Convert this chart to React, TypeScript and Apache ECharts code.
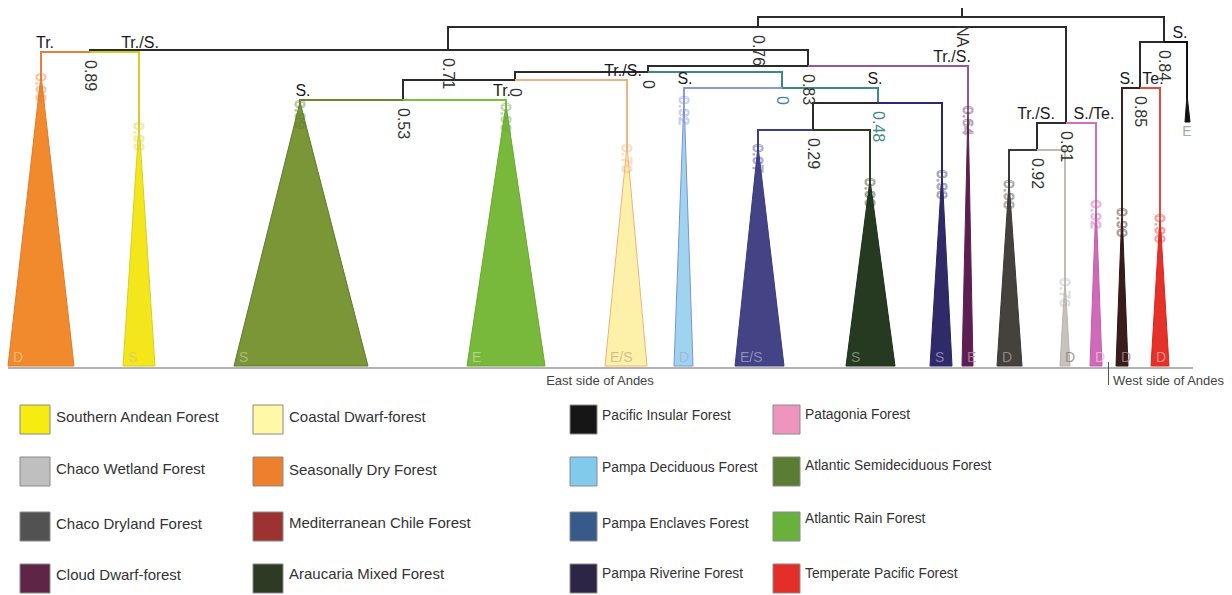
import React, { useEffect, useRef } from "react";
import * as echarts from "echarts";

// ---------- Legend (forest types, column-major order) ----------
const forestNames = [
  "Southern Andean Forest", "Chaco Wetland Forest", "Chaco Dryland Forest", "Cloud Dwarf-forest",
  "Coastal Dwarf-forest", "Seasonally Dry Forest", "Mediterranean Chile Forest", "Araucaria Mixed Forest",
  "Pacific Insular Forest", "Pampa Deciduous Forest", "Pampa Enclaves Forest", "Pampa Riverine Forest",
  "Patagonia Forest", "Atlantic Semideciduous Forest", "Atlantic Rain Forest", "Temperate Pacific Forest",
];
const forestColors = [
  "#f7ec12", "#bfbfbf", "#525252", "#5f2546",
  "#fff8a6", "#ee7f2d", "#9c3232", "#2e3a24",
  "#161616", "#82caeb", "#375a8a", "#2d2545",
  "#ef95bd", "#5b7d33", "#68b23b", "#e42f28",
];

// ---------- Tree: leaves (clades) ----------
const leafForest = [
  "Seasonally Dry Forest", "Southern Andean Forest", "Atlantic Semideciduous Forest", "Atlantic Rain Forest",
  "Coastal Dwarf-forest", "Pampa Deciduous Forest", "Pampa Enclaves Forest", "Araucaria Mixed Forest",
  "Pampa Riverine Forest", "Cloud Dwarf-forest", "Chaco Dryland Forest", "Chaco Wetland Forest",
  "Patagonia Forest", "Mediterranean Chile Forest", "Temperate Pacific Forest", "Pacific Insular Forest",
];
const leafX = [41, 139, 300, 506, 627, 684, 758, 870, 942, 968, 1009, 1065, 1096, 1122, 1160, 1187];
const leafApexY = [75, 124, 102, 105, 146, 98, 146, 180, 172, 108, 182, 280, 202, 210, 216, 95];
const leafBaseY = [366, 366, 366, 366, 366, 366, 366, 366, 366, 366, 366, 366, 366, 366, 366, 122];
const leafBaseLeft = [8, 123, 234, 467, 605, 674, 735, 846, 930, 962, 997, 1060, 1090, 1116, 1151, 1185];
const leafBaseRight = [74, 155, 368, 545, 647, 693, 784, 895, 952, 973, 1022, 1070, 1102, 1128, 1169, 1190];
const leafParent = ["E", "E", "I", "I", "H", "J", "L", "L", "K", "F", "M", "M", "D", "N", "N", "B"];
const leafTip = ["D", "S", "S", "E", "E/S", "D", "E/S", "S", "S", "E", "D", "D", "D", "D", "D", "E"];
const leafState = ["Tr.", "Tr./S.", "S.", "Tr.", "Tr./S.", "S.", "", "", "", "Tr./S.", "", "", "S./Te.", "S.", "Te.", "S."];
const leafSupport = ["0.99", "0.99", "0.99", "0.99", "0.70", "0.92", "0.97", "0.99", "0.98", "0.64", "0.98", "0.76", "0.92", "0.90", "0.98", ""];

// ---------- Tree: internal nodes ----------
const nodeIds = ["root", "A", "B", "C", "D", "E", "F", "G", "H", "I", "J", "K", "L", "M", "N"];
const nodeX = [962, 758, 1164, 448, 1066, 90, 808, 648, 515, 403, 782, 878, 813, 1037, 1140];
const nodeY = [17, 27, 42, 50, 123, 52, 66, 72, 80, 100, 88, 103, 130, 150, 88];
const nodeParent = ["", "root", "root", "A", "A", "C", "C", "F", "G", "H", "G", "J", "K", "D", "B"];
const nodeSupport = ["NA", "0.76", "0.84", "0.71", "0.81", "0.89", "0.83", "0", "0", "0.53", "0", "0.48", "0.29", "0.92", "0.85"];
const nodeState = ["", "", "", "", "", "", "", "", "", "", "", "S.", "", "Tr./S.", ""];

// ---------- Styles (kept apart from data) ----------
const FONT = "'Liberation Sans', Arial, sans-serif";
const leafFill = ["#f08a2c", "#f3e61a", "#7a9636", "#78b83a", "#fdf0a8", "#9fd4ef", "#434385", "#263a22",
  "#302a68", "#5d1f52", "#45423e", "#c8c2bc", "#d06ab8", "#3a1c1a", "#e6302a", "#111111"];
const leafStroke = ["#e27a2e", "#d6cf2a", "#5f7a2e", "#6aa832", "#f0b27a", "#7f90d8", "#3a3a80", "#1e2e1a",
  "#2a2560", "#5d1f52", "#3a3835", "#b8b2ac", "#c45aad", "#2e1614", "#d8281f", "#111111"];
const leafBranch = ["#e97c3e", "#d4cc2c", "#6b8a30", "#7cc040", "#f0b482", "#8a98dc", "#3c3c90", "#2a3a22",
  "#2c2870", "#93579a", "#3a3a3a", "#c0bab4", "#d070c0", "#3a2020", "#e84a3a", "#111111"];
const leafTipColor = ["#f6c08a", "#d8cf6a", "#b5c48a", "#b8dc98", "#c9b58a", "#a7b0d8", "#9a9acb", "#8a9a80",
  "#9a94c0", "#b08aa8", "#9a9894", "#8a8480", "#f0b8e0", "#a08080", "#f4a0a0", "#aaaaaa"];
const nodeBranch = ["#2b2b2b", "#2b2b2b", "#2b2b2b", "#2b2b2b", "#2b2b2b", "#2b2b2b", "#2b2b2b", "#2b2b2b",
  "#2b2b2b", "#2b2b2b", "#3b8b82", "#3b8b82", "#2b2b2b", "#2b2b2b", "#2b2b2b"];
const nodeSupportColor = ["#333", "#333", "#333", "#333", "#333", "#333", "#333", "#333", "#333", "#333",
  "#3b8b82", "#3b8b82", "#333", "#333", "#333"];
const leafStateNudge = [4, 1, 3, -4, -4, 1, 0, 0, 0, -16, 0, 0, -2, 5, -7, -7];
const nodeStateNudge = [0, 0, 0, 0, 0, 0, 0, 0, 0, 0, 0, -3, 0, -1, 0];
const ROOT_STEM_TOP = 8;

function nodeIndex(id: string) {
  return nodeIds.indexOf(id);
}

type Edge = { pts: number[][]; color: string };
function buildEdges(): Edge[] {
  const edges: Edge[] = [];
  edges.push({ pts: [[nodeX[0], ROOT_STEM_TOP], [nodeX[0], nodeY[0]]], color: nodeBranch[0] });
  nodeIds.forEach((id, i) => {
    if (!nodeParent[i]) return;
    const p = nodeIndex(nodeParent[i]);
    edges.push({
      pts: [[nodeX[p], nodeY[p]], [nodeX[i], nodeY[p]], [nodeX[i], nodeY[i]]],
      color: nodeBranch[i],
    });
  });
  leafX.forEach((x, i) => {
    const p = nodeIndex(leafParent[i]);
    edges.push({
      pts: [[nodeX[p], nodeY[p]], [x, nodeY[p]], [x, leafApexY[i] + 4]],
      color: leafBranch[i],
    });
  });
  return edges;
}

type Lbl = { x: number; y: number; text: string; kind: string; color: string; dx: number };
function buildLabels(): Lbl[] {
  const out: Lbl[] = [];
  nodeIds.forEach((id, i) => {
    out.push({ x: nodeX[i], y: nodeY[i], text: nodeSupport[i], kind: "support", color: nodeSupportColor[i], dx: 0 });
    if (nodeState[i]) {
      const p = nodeIndex(nodeParent[i]);
      out.push({ x: nodeX[i], y: nodeY[p], text: nodeState[i], kind: "state", color: "#1a1a1a", dx: nodeStateNudge[i] });
    }
  });
  leafX.forEach((x, i) => {
    const p = nodeIndex(leafParent[i]);
    if (leafState[i]) out.push({ x, y: nodeY[p], text: leafState[i], kind: "state", color: "#1a1a1a", dx: leafStateNudge[i] });
    if (leafSupport[i]) out.push({ x, y: leafApexY[i], text: leafSupport[i], kind: "faint", color: leafStroke[i], dx: 0 });
    if (leafBaseY[i] > 300) {
      out.push({ x: leafBaseLeft[i], y: leafBaseY[i], text: leafTip[i], kind: "tip", color: leafTipColor[i], dx: 0 });
    } else {
      out.push({ x, y: leafBaseY[i], text: leafTip[i], kind: "tipBelow", color: leafTipColor[i], dx: 0 });
    }
  });
  return out;
}

export default function App() {
  const ref = useRef<HTMLDivElement>(null);
  useEffect(() => {
    if (!ref.current) return;
    const chart = echarts.init(ref.current, null, { renderer: "svg" });
    const edges = buildEdges();
    const labels = buildLabels();

    const legendCols = [20, 253, 570, 773];
    const legendTextX = [56, 289, 602, 805];
    const legendFont = [15, 15, 13.8, 13.8];
    const legendRows = [405, 457, 512, 564];
    const legendTextDy = [[11, 11, 11, 10], [11, 12, 10, 9], [10, 10, 11, 9], [9, 8, 6, 9]];
    const legendGraphics: any[] = [];
    forestNames.forEach((name, k) => {
      const c = Math.floor(k / 4);
      const r = k % 4;
      legendGraphics.push({
        type: "rect",
        shape: { x: legendCols[c], y: legendRows[r], width: c >= 2 ? 27 : 30, height: 29 },
        style: { fill: forestColors[k], stroke: "#8a8a8a", lineWidth: 1 },
      });
      legendGraphics.push({
        type: "text",
        x: legendTextX[c],
        y: legendRows[r] + legendTextDy[c][r],
        style: { text: name, fill: "#333", font: `${legendFont[c]}px ${FONT}`, verticalAlign: "middle", align: "left" },
      });
    });

    const option: any = {
      animation: false,
      backgroundColor: "#ffffff",
      grid: { left: 0, right: 0, top: 0, bottom: 0 },
      xAxis: { type: "value", min: 0, max: 1232, show: false },
      yAxis: { type: "value", min: 0, max: 595, inverse: true, show: false },
      series: [
        {
          type: "custom",
          name: "clades",
          clip: false,
          data: leafX.map((x, i) => [x, leafApexY[i]]),
          renderItem: (params: any, api: any) => {
            const i = params.dataIndex;
            const a = api.coord([leafX[i], leafApexY[i]]);
            const l = api.coord([leafBaseLeft[i], leafBaseY[i]]);
            const r = api.coord([leafBaseRight[i], leafBaseY[i]]);
            return {
              type: "polygon",
              shape: { points: [a, r, l] },
              style: { fill: leafFill[i], stroke: leafStroke[i], lineWidth: 1 },
            };
          },
          z: 1,
        },
        {
          type: "custom",
          name: "branches",
          clip: false,
          data: edges.map((e) => e.pts[e.pts.length - 1]),
          renderItem: (params: any, api: any) => {
            const e = edges[params.dataIndex];
            return {
              type: "polyline",
              shape: { points: e.pts.map((p) => api.coord(p)) },
              style: { stroke: e.color, lineWidth: 2, fill: null, lineJoin: "miter" },
            };
          },
          z: 2,
        },
        {
          type: "custom",
          name: "labels",
          clip: false,
          data: labels.map((l) => [l.x, l.y]),
          renderItem: (params: any, api: any) => {
            const l = labels[params.dataIndex];
            const p = api.coord([l.x, l.y]);
            if (l.kind === "support") {
              return {
                type: "text", x: p[0], y: p[1] + 8, rotation: -Math.PI / 2,
                style: { text: l.text, fill: l.color, font: `16px ${FONT}`, align: "left", verticalAlign: "middle" },
              };
            }
            if (l.kind === "state") {
              return {
                type: "text", x: p[0] + l.dx, y: p[1] - 2,
                style: { text: l.text, fill: l.color, font: `16px ${FONT}`, align: "center", verticalAlign: "bottom" },
              };
            }
            if (l.kind === "faint") {
              return {
                type: "text", x: p[0], y: p[1] - 2, rotation: -Math.PI / 2,
                style: { text: l.text, fill: "none", stroke: l.color, lineWidth: 1, opacity: 0.45, font: `15px ${FONT}`, align: "left", verticalAlign: "middle" },
              };
            }
            if (l.kind === "tip") {
              return {
                type: "text", x: p[0] + 5, y: p[1] - 9,
                style: { text: l.text, fill: l.color, font: `14px ${FONT}`, align: "left", verticalAlign: "middle", opacity: 0.85 },
              };
            }
            return {
              type: "text", x: p[0], y: p[1] + 9,
              style: { text: l.text, fill: l.color, font: `14px ${FONT}`, align: "center", verticalAlign: "middle" },
            };
          },
          z: 3,
        },
      ],
      graphic: [
        { type: "line", shape: { x1: 8, y1: 368, x2: 1193, y2: 368 }, style: { stroke: "#b3b3b3", lineWidth: 2 } },
        { type: "line", shape: { x1: 1108.5, y1: 362, x2: 1108.5, y2: 385 }, style: { stroke: "#555", lineWidth: 1 } },
        { type: "text", x: 600, y: 380, style: { text: "East side of Andes", fill: "#444", font: `13px ${FONT}`, align: "center", verticalAlign: "middle" } },
        { type: "text", x: 1113, y: 380, style: { text: "West side of Andes", fill: "#444", font: `13px ${FONT}`, align: "left", verticalAlign: "middle" } },
        ...legendGraphics,
      ],
    };
    chart.setOption(option);
    return () => chart.dispose();
  }, []);
  return (
    <div
      ref={ref}
      style={{ position: "fixed", left: 0, top: 0, width: 1232, height: 595, background: "#fff" }}
    />
  );
}
